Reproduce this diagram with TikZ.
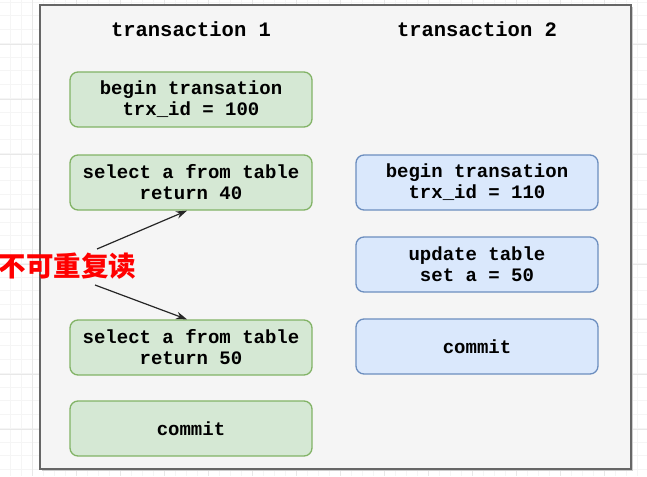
\documentclass[tikz,border=0pt]{standalone}
\usepackage{fontspec}
\setmonofont{Liberation Mono}
\newfontfamily\cjk{Noto Sans CJK SC}
\usetikzlibrary{arrows.meta, positioning}
\definecolor{gfill}{HTML}{D5E8D4}
\definecolor{gline}{HTML}{82B366}
\definecolor{bfill}{HTML}{DAE8FC}
\definecolor{bline}{HTML}{6C8EBF}
\definecolor{panel}{HTML}{F5F5F5}
\definecolor{panelline}{HTML}{666666}
\tikzset{
  trx/.style={rounded corners=8pt, line width=1.3pt, minimum width=242pt,
    minimum height=55pt, align=center, font=\ttfamily\bfseries\fontsize{19}{21}\selectfont},
  trxa/.style={trx, fill=gfill, draw=gline},
  trxb/.style={trx, fill=bfill, draw=bline},
  head/.style={font=\ttfamily\bfseries\fontsize{20.5}{24}\selectfont},
}

\begin{document}
\begin{tikzpicture}[x=1pt,y=-1pt,>={Stealth[length=11pt,width=7.5pt]}]
\useasboundingbox (0,0) rectangle (647,476);
%background grid
\foreach \x in {10.7,21.7,...,647} \draw[black!4,line width=0.6pt] (\x,0) -- (\x,476);
\foreach \y in {2,15.75,...,476} \draw[black!4,line width=0.6pt] (0,\y) -- (647,\y);
\foreach \x in {32.7,76.7,...,647} \draw[black!9,line width=0.6pt] (\x,0) -- (\x,476);
\foreach \y in {44,99,...,476} \draw[black!9,line width=0.6pt] (0,\y) -- (647,\y);
%panel
\fill[black!20] (42,7) rectangle (633,471);
\draw[fill=panel,draw=panelline,line width=1.3pt] (40,5) rectangle (631,469);
%headers
\node[head] (h1) at (191,29) {transaction 1};
\node[head] (h2) at (477,29) {transaction 2};
%transaction 1
\node[trxa] (a1) at (191,99.5) {begin transation\\trx\_id = 100};
\node[trxa] (a2) at (191,182.5) {select a from table\\return 40};
\node[trxa] (a3) at (191,347.5) {select a from table\\return 50};
\node[trxa] (a4) at (191,428.5) {commit};
%transaction 2
\node[trxb] (b1) at (477,182.5) {begin transation\\trx\_id = 110};
\node[trxb] (b2) at (477,264.5) {update table\\set a = 50};
\node[trxb] (b3) at (477,346.5) {commit};
%label
\node[text=red,font=\cjk\bfseries\fontsize{27.5}{30}\selectfont,inner sep=0pt] (read) at (67.5,266) {不可重复读};
\coordinate (r1) at (97,249);
\coordinate (r2) at (95,285);
\draw[->,line width=1.2pt,black!85] (r1) -- ([xshift=-4pt]a2.south);
\draw[->,line width=1.2pt,black!85] (r2) -- ([xshift=-4pt]a3.north);
\end{tikzpicture}
\end{document}
